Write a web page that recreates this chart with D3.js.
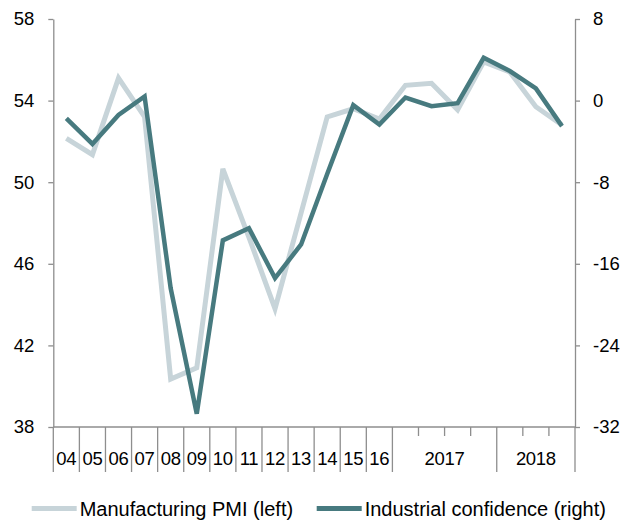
<!DOCTYPE html>
<html>
<head>
<meta charset="utf-8">
<script src="https://cdn.jsdelivr.net/npm/d3@7/dist/d3.min.js"></script>
<style>
  body { margin: 0; background: #fff; }
  text { font-family: "Liberation Sans", Arial, sans-serif; fill: #000; }
</style>
</head>
<body>
<div id="chart"></div>
<script>
// categories: years 04-16, then quarters of 2017 and 2018
const categories = ["04","05","06","07","08","09","10","11","12","13","14","15","16",
                    "17Q1","17Q2","17Q3","17Q4","18Q1","18Q2","18Q3"];
const pmi = [52.15, 51.35, 55.1, 53.2, 40.35, 40.9, 50.65, 47.3, 43.8, 48.5,
             53.2, 53.6, 53.1, 54.75, 54.85, 53.55, 55.9, 55.4, 53.7, 52.8];
const confidence = [-1.75, -4.25, -1.4, 0.4, -18.4, -30.7, -13.7, -12.5, -17.4, -14.1,
                    -7.2, -0.45, -2.35, 0.3, -0.55, -0.25, 4.2, 2.9, 1.2, -2.5];
const leftTicks = [38, 42, 46, 50, 54, 58];
const rightTicks = [-32, -24, -16, -8, 0, 8];
// x labels: text + first/last category index they span
const xLabels = [["04",0,0],["05",1,1],["06",2,2],["07",3,3],["08",4,4],["09",5,5],["10",6,6],
                 ["11",7,7],["12",8,8],["13",9,9],["14",10,10],["15",11,11],["16",12,12],
                 ["2017",13,16],["2018",17,19]];
const yearBreaks = [0,1,2,3,4,5,6,7,8,9,10,11,12,13,17,20];
const quarterBreaks = [14,15,16,18,19];

const W = 632, H = 521;
const plotLeft = 53.3, plotRight = 575, plotTop = 19, plotBottom = 427;
const axisColor = "#8e8e8e", lightColor = "#c7d4d9", darkColor = "#477a7f";

const svg = d3.select("#chart").append("svg")
  .attr("width", W).attr("height", H);

let x = d3.scaleBand().domain(categories).range([plotLeft, plotRight]).padding(0);
let xEdge = d3.scaleLinear().domain([0, categories.length]).range([plotLeft, plotRight]);
let yL = d3.scaleLinear().domain([38, 58]).range([plotBottom, plotTop]);
let yR = d3.scaleLinear().domain([-32, 8]).range([plotBottom, plotTop]);

// left axis
svg.append("g")
  .attr("transform", "translate(" + plotLeft + ",0)")
  .call(d3.axisLeft(yL).tickValues(leftTicks).tickFormat(d => String(d))
    .tickSize(5).tickPadding(14).tickSizeOuter(0))
  .call(g => g.selectAll("line, path").attr("stroke", axisColor).attr("stroke-width", 1.3))
  .call(g => g.selectAll("text").attr("font-size", "18.5px").attr("font-family", "Liberation Sans, Arial"));

// right axis
svg.append("g")
  .attr("transform", "translate(" + plotRight + ",0)")
  .call(d3.axisRight(yR).tickValues(rightTicks).tickFormat(d => String(d))
    .tickSize(5).tickPadding(13).tickSizeOuter(0))
  .call(g => g.selectAll("line, path").attr("stroke", axisColor).attr("stroke-width", 1.3))
  .call(g => g.selectAll("text").attr("font-size", "18.5px").attr("font-family", "Liberation Sans, Arial"));

// x axis baseline and tick marks
svg.append("line")
  .attr("x1", plotLeft).attr("x2", plotRight).attr("y1", plotBottom).attr("y2", plotBottom)
  .attr("stroke", axisColor).attr("stroke-width", 1.3);

svg.selectAll(".ytick").data(yearBreaks).enter().append("line")
  .attr("x1", d => xEdge(d)).attr("x2", d => xEdge(d))
  .attr("y1", plotBottom).attr("y2", plotBottom + 45)
  .attr("stroke", axisColor).attr("stroke-width", 1.3);

svg.selectAll(".qtick").data(quarterBreaks).enter().append("line")
  .attr("x1", d => xEdge(d)).attr("x2", d => xEdge(d))
  .attr("y1", plotBottom).attr("y2", plotBottom + 9)
  .attr("stroke", axisColor).attr("stroke-width", 1.3);

svg.selectAll(".xlab").data(xLabels).enter().append("text")
  .attr("x", d => (xEdge(d[1]) + xEdge(d[2] + 1)) / 2)
  .attr("y", 465)
  .attr("text-anchor", "middle")
  .attr("font-size", "18.5px")
  .attr("letter-spacing", "-0.3px")
  .text(d => d[0]);

// lines
const lineL = d3.line().x((d, i) => x(categories[i]) + x.bandwidth() / 2).y(d => yL(d));
const lineR = d3.line().x((d, i) => x(categories[i]) + x.bandwidth() / 2).y(d => yR(d));

svg.append("path").datum(pmi)
  .attr("d", lineL).attr("fill", "none")
  .attr("stroke", lightColor).attr("stroke-width", 5).attr("stroke-linejoin", "miter");

svg.append("path").datum(confidence)
  .attr("d", lineR).attr("fill", "none")
  .attr("stroke", darkColor).attr("stroke-width", 4.5).attr("stroke-linejoin", "miter");

// legend
const legend = [["Manufacturing PMI (left)", lightColor, 31.7], ["Industrial confidence (right)", darkColor, 316.7]];
legend.forEach(function(l) {
  svg.append("line")
    .attr("x1", l[2]).attr("x2", l[2] + 45).attr("y1", 508.5).attr("y2", 508.5)
    .attr("stroke", l[1]).attr("stroke-width", 5);
  svg.append("text")
    .attr("x", l[2] + 48).attr("y", 515.5)
    .attr("font-size", "20px")
    .text(l[0]);
});
</script>
</body>
</html>
